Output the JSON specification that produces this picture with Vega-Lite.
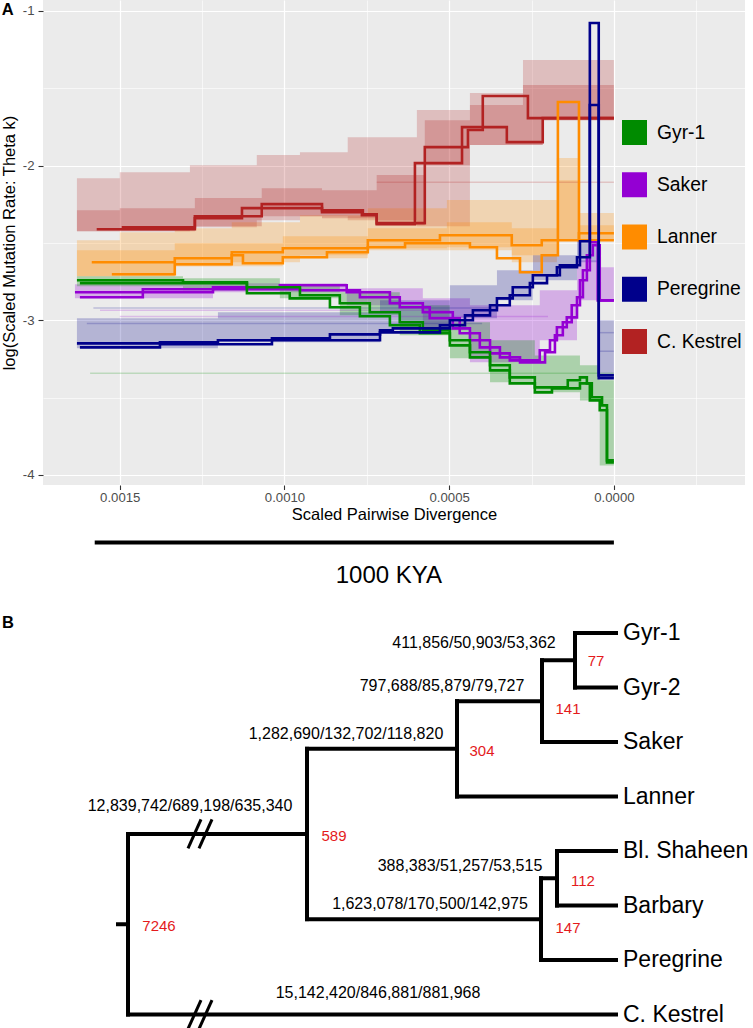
{
  "$schema": "https://vega.github.io/schema/vega-lite/v6.json",
  "background": "white",
  "padding": {"left": 1, "top": 0, "right": 0, "bottom": 0},
  "spacing": 5,
  "resolve": {"legend": {"color": "independent"}},
  "config": {"font": "Liberation Sans", "view": {"stroke": null}},
  "datasets": {
    "main": [
      {"sp":"C. Kestrel","run":"K1","x":0,"y":-1.693},{"sp":"C. Kestrel","run":"K1","x":0.000261,"y":-1.693},{"sp":"C. Kestrel","run":"K1","x":0.000398,"y":-1.55},{"sp":"C. Kestrel","run":"K1","x":0.000443,"y":-1.77},{"sp":"C. Kestrel","run":"K1","x":0.000574,"y":-1.88},{"sp":"C. Kestrel","run":"K1","x":0.00072,"y":-2.372},{"sp":"C. Kestrel","run":"K1","x":0.000762,"y":-2.314},{"sp":"C. Kestrel","run":"K1","x":0.000886,"y":-2.288},{"sp":"C. Kestrel","run":"K1","x":0.001069,"y":-2.249},{"sp":"C. Kestrel","run":"K1","x":0.001272,"y":-2.327},{"sp":"C. Kestrel","run":"K1","x":0.00157,"y":-2.411},
      {"sp":"C. Kestrel","run":"K2","x":0,"y":-1.693},{"sp":"C. Kestrel","run":"K2","x":0.000216,"y":-1.693},{"sp":"C. Kestrel","run":"K2","x":0.000325,"y":-1.848},{"sp":"C. Kestrel","run":"K2","x":0.000461,"y":-1.751},{"sp":"C. Kestrel","run":"K2","x":0.000604,"y":-1.984},{"sp":"C. Kestrel","run":"K2","x":0.00072,"y":-2.379},{"sp":"C. Kestrel","run":"K2","x":0.000765,"y":-2.32},{"sp":"C. Kestrel","run":"K2","x":0.000886,"y":-2.301},{"sp":"C. Kestrel","run":"K2","x":0.001129,"y":-2.275},{"sp":"C. Kestrel","run":"K2","x":0.001272,"y":-2.34},{"sp":"C. Kestrel","run":"K2","x":0.001494,"y":-2.398},
      {"sp":"Lanner","run":"L1","x":0,"y":-2.482},{"sp":"Lanner","run":"L1","x":0.000106,"y":-2.482},{"sp":"Lanner","run":"L1","x":0.00017,"y":-1.589},{"sp":"Lanner","run":"L1","x":0.000219,"y":-2.579},{"sp":"Lanner","run":"L1","x":0.000285,"y":-2.689},{"sp":"Lanner","run":"L1","x":0.000355,"y":-2.599},{"sp":"Lanner","run":"L1","x":0.000437,"y":-2.528},{"sp":"Lanner","run":"L1","x":0.000634,"y":-2.502},{"sp":"Lanner","run":"L1","x":0.000747,"y":-2.528},{"sp":"Lanner","run":"L1","x":0.000871,"y":-2.56},{"sp":"Lanner","run":"L1","x":0.001005,"y":-2.592},{"sp":"Lanner","run":"L1","x":0.001126,"y":-2.631},{"sp":"Lanner","run":"L1","x":0.00116,"y":-2.579},{"sp":"Lanner","run":"L1","x":0.001333,"y":-2.638},{"sp":"Lanner","run":"L1","x":0.001524,"y":-2.702},
      {"sp":"Lanner","run":"L2","x":0,"y":-2.437},{"sp":"Lanner","run":"L2","x":0.000106,"y":-2.437},{"sp":"Lanner","run":"L2","x":0.00017,"y":-2.482},{"sp":"Lanner","run":"L2","x":0.000219,"y":-2.482},{"sp":"Lanner","run":"L2","x":0.00031,"y":-2.515},{"sp":"Lanner","run":"L2","x":0.000528,"y":-2.45},{"sp":"Lanner","run":"L2","x":0.000747,"y":-2.482},{"sp":"Lanner","run":"L2","x":0.001005,"y":-2.534},{"sp":"Lanner","run":"L2","x":0.00116,"y":-2.56},{"sp":"Lanner","run":"L2","x":0.001333,"y":-2.599},{"sp":"Lanner","run":"L2","x":0.001585,"y":-2.625},
      {"sp":"Saker","run":"S1","x":0,"y":-2.871},{"sp":"Saker","run":"S1","x":0.000049,"y":-2.871},{"sp":"Saker","run":"S1","x":0.000073,"y":-2.495},{"sp":"Saker","run":"S1","x":0.000094,"y":-2.676},{"sp":"Saker","run":"S1","x":0.000112,"y":-2.851},{"sp":"Saker","run":"S1","x":0.000143,"y":-2.981},{"sp":"Saker","run":"S1","x":0.000173,"y":-3.045},{"sp":"Saker","run":"S1","x":0.000194,"y":-3.129},{"sp":"Saker","run":"S1","x":0.000225,"y":-3.194},{"sp":"Saker","run":"S1","x":0.000316,"y":-3.259},{"sp":"Saker","run":"S1","x":0.000376,"y":-3.214},{"sp":"Saker","run":"S1","x":0.000437,"y":-3.129},{"sp":"Saker","run":"S1","x":0.000489,"y":-3.052},{"sp":"Saker","run":"S1","x":0.00058,"y":-2.948},{"sp":"Saker","run":"S1","x":0.00068,"y":-2.89},{"sp":"Saker","run":"S1","x":0.000811,"y":-2.819},{"sp":"Saker","run":"S1","x":0.001014,"y":-2.773},{"sp":"Saker","run":"S1","x":0.001217,"y":-2.786},{"sp":"Saker","run":"S1","x":0.00143,"y":-2.799},{"sp":"Saker","run":"S1","x":0.001636,"y":-2.819},
      {"sp":"Saker","run":"S2","x":0,"y":-2.871},{"sp":"Saker","run":"S2","x":0.000043,"y":-2.871},{"sp":"Saker","run":"S2","x":0.000064,"y":-2.515},{"sp":"Saker","run":"S2","x":0.000082,"y":-2.579},{"sp":"Saker","run":"S2","x":0.000103,"y":-2.741},{"sp":"Saker","run":"S2","x":0.000128,"y":-2.903},{"sp":"Saker","run":"S2","x":0.000155,"y":-3.013},{"sp":"Saker","run":"S2","x":0.000179,"y":-3.097},{"sp":"Saker","run":"S2","x":0.000209,"y":-3.207},{"sp":"Saker","run":"S2","x":0.000285,"y":-3.272},{"sp":"Saker","run":"S2","x":0.000346,"y":-3.24},{"sp":"Saker","run":"S2","x":0.000407,"y":-3.175},{"sp":"Saker","run":"S2","x":0.000468,"y":-3.084},{"sp":"Saker","run":"S2","x":0.000559,"y":-2.987},{"sp":"Saker","run":"S2","x":0.00065,"y":-2.916},{"sp":"Saker","run":"S2","x":0.000771,"y":-2.851},{"sp":"Saker","run":"S2","x":0.000953,"y":-2.806},{"sp":"Saker","run":"S2","x":0.001217,"y":-2.799},{"sp":"Saker","run":"S2","x":0.00143,"y":-2.819},{"sp":"Saker","run":"S2","x":0.001621,"y":-2.851},
      {"sp":"Gyr-1","run":"G1","x":0,"y":-3.906},{"sp":"Gyr-1","run":"G1","x":0.000021,"y":-3.906},{"sp":"Gyr-1","run":"G1","x":0.000036,"y":-3.55},{"sp":"Gyr-1","run":"G1","x":0.000067,"y":-3.498},{"sp":"Gyr-1","run":"G1","x":0.000082,"y":-3.408},{"sp":"Gyr-1","run":"G1","x":0.000103,"y":-3.369},{"sp":"Gyr-1","run":"G1","x":0.00014,"y":-3.388},{"sp":"Gyr-1","run":"G1","x":0.00024,"y":-3.434},{"sp":"Gyr-1","run":"G1","x":0.000316,"y":-3.369},{"sp":"Gyr-1","run":"G1","x":0.000376,"y":-3.291},{"sp":"Gyr-1","run":"G1","x":0.000437,"y":-3.207},{"sp":"Gyr-1","run":"G1","x":0.000498,"y":-3.129},{"sp":"Gyr-1","run":"G1","x":0.00058,"y":-3.065},{"sp":"Gyr-1","run":"G1","x":0.00065,"y":-3.013},{"sp":"Gyr-1","run":"G1","x":0.000741,"y":-2.948},{"sp":"Gyr-1","run":"G1","x":0.000832,"y":-2.89},{"sp":"Gyr-1","run":"G1","x":0.000953,"y":-2.838},{"sp":"Gyr-1","run":"G1","x":0.001114,"y":-2.786},{"sp":"Gyr-1","run":"G1","x":0.001308,"y":-2.754},{"sp":"Gyr-1","run":"G1","x":0.00163,"y":-2.741},
      {"sp":"Gyr-1","run":"G2","x":0,"y":-3.919},{"sp":"Gyr-1","run":"G2","x":0.000021,"y":-3.919},{"sp":"Gyr-1","run":"G2","x":0.000043,"y":-3.582},{"sp":"Gyr-1","run":"G2","x":0.000073,"y":-3.518},{"sp":"Gyr-1","run":"G2","x":0.000103,"y":-3.408},{"sp":"Gyr-1","run":"G2","x":0.000188,"y":-3.44},{"sp":"Gyr-1","run":"G2","x":0.00024,"y":-3.466},{"sp":"Gyr-1","run":"G2","x":0.000316,"y":-3.408},{"sp":"Gyr-1","run":"G2","x":0.000376,"y":-3.324},{"sp":"Gyr-1","run":"G2","x":0.000437,"y":-3.24},{"sp":"Gyr-1","run":"G2","x":0.000498,"y":-3.162},{"sp":"Gyr-1","run":"G2","x":0.000589,"y":-3.084},{"sp":"Gyr-1","run":"G2","x":0.00068,"y":-3.032},{"sp":"Gyr-1","run":"G2","x":0.000771,"y":-2.974},{"sp":"Gyr-1","run":"G2","x":0.000862,"y":-2.916},{"sp":"Gyr-1","run":"G2","x":0.000984,"y":-2.858},{"sp":"Gyr-1","run":"G2","x":0.001114,"y":-2.825},{"sp":"Gyr-1","run":"G2","x":0.001621,"y":-2.76},
      {"sp":"Peregrine","run":"P1","x":0,"y":-3.375},{"sp":"Peregrine","run":"P1","x":0.000046,"y":-3.375},{"sp":"Peregrine","run":"P1","x":0.000073,"y":-1.078},{"sp":"Peregrine","run":"P1","x":0.000112,"y":-2.592},{"sp":"Peregrine","run":"P1","x":0.000173,"y":-2.657},{"sp":"Peregrine","run":"P1","x":0.000246,"y":-2.709},{"sp":"Peregrine","run":"P1","x":0.000307,"y":-2.786},{"sp":"Peregrine","run":"P1","x":0.000355,"y":-2.858},{"sp":"Peregrine","run":"P1","x":0.000428,"y":-2.935},{"sp":"Peregrine","run":"P1","x":0.000498,"y":-3.0},{"sp":"Peregrine","run":"P1","x":0.000671,"y":-3.052},{"sp":"Peregrine","run":"P1","x":0.00071,"y":-3.065},{"sp":"Peregrine","run":"P1","x":0.000862,"y":-3.091},{"sp":"Peregrine","run":"P1","x":0.001038,"y":-3.117},{"sp":"Peregrine","run":"P1","x":0.001202,"y":-3.129},{"sp":"Peregrine","run":"P1","x":0.001378,"y":-3.142},{"sp":"Peregrine","run":"P1","x":0.00163,"y":-3.149},
      {"sp":"Peregrine","run":"P2","x":0,"y":-3.356},{"sp":"Peregrine","run":"P2","x":0.000046,"y":-3.356},{"sp":"Peregrine","run":"P2","x":0.000073,"y":-1.608},{"sp":"Peregrine","run":"P2","x":0.000103,"y":-2.489},{"sp":"Peregrine","run":"P2","x":0.000164,"y":-2.644},{"sp":"Peregrine","run":"P2","x":0.000203,"y":-2.709},{"sp":"Peregrine","run":"P2","x":0.000255,"y":-2.76},{"sp":"Peregrine","run":"P2","x":0.000316,"y":-2.838},{"sp":"Peregrine","run":"P2","x":0.000376,"y":-2.903},{"sp":"Peregrine","run":"P2","x":0.000452,"y":-2.968},{"sp":"Peregrine","run":"P2","x":0.000528,"y":-3.032},{"sp":"Peregrine","run":"P2","x":0.00071,"y":-3.078},{"sp":"Peregrine","run":"P2","x":0.001038,"y":-3.129},{"sp":"Peregrine","run":"P2","x":0.001378,"y":-3.155},{"sp":"Peregrine","run":"P2","x":0.001621,"y":-3.175}
    ],
    "band": [
      {"sp":"C. Kestrel","x":0,"lo":-1.706,"y":-1.317},{"sp":"C. Kestrel","x":0.000216,"lo":-1.706,"y":-1.317},{"sp":"C. Kestrel","x":0.000276,"lo":-1.867,"y":-1.317},{"sp":"C. Kestrel","x":0.000437,"lo":-1.867,"y":-1.531},{"sp":"C. Kestrel","x":0.000598,"lo":-2.392,"y":-1.641},{"sp":"C. Kestrel","x":0.000808,"lo":-2.353,"y":-1.816},{"sp":"C. Kestrel","x":0.000953,"lo":-2.327,"y":-1.913},{"sp":"C. Kestrel","x":0.001084,"lo":-2.353,"y":-1.932},{"sp":"C. Kestrel","x":0.001287,"lo":-2.398,"y":-1.997},{"sp":"C. Kestrel","x":0.0015,"lo":-2.424,"y":-2.042},{"sp":"C. Kestrel","x":0.00163,"lo":-2.424,"y":-2.081},
      {"sp":"Lanner","x":0,"lo":-2.482,"y":-2.307},{"sp":"Lanner","x":0.000106,"lo":-2.482,"y":-2.307},{"sp":"Lanner","x":0.000173,"lo":-2.482,"y":-1.951},{"sp":"Lanner","x":0.00031,"lo":-2.625,"y":-2.223},{"sp":"Lanner","x":0.000507,"lo":-2.547,"y":-2.223},{"sp":"Lanner","x":0.000747,"lo":-2.534,"y":-2.275},{"sp":"Lanner","x":0.000953,"lo":-2.579,"y":-2.32},{"sp":"Lanner","x":0.00116,"lo":-2.625,"y":-2.366},{"sp":"Lanner","x":0.001333,"lo":-2.65,"y":-2.405},{"sp":"Lanner","x":0.0015,"lo":-2.715,"y":-2.43},{"sp":"Lanner","x":0.00163,"lo":-2.715,"y":-2.482},
      {"sp":"Saker","x":0,"lo":-2.871,"y":-2.657},{"sp":"Saker","x":0.000049,"lo":-2.871,"y":-2.657},{"sp":"Saker","x":0.000112,"lo":-2.871,"y":-2.612},{"sp":"Saker","x":0.000225,"lo":-3.129,"y":-2.806},{"sp":"Saker","x":0.000437,"lo":-3.272,"y":-2.903},{"sp":"Saker","x":0.00058,"lo":-3.065,"y":-2.858},{"sp":"Saker","x":0.000811,"lo":-2.903,"y":-2.793},{"sp":"Saker","x":0.001217,"lo":-2.819,"y":-2.761},{"sp":"Saker","x":0.001636,"lo":-2.858,"y":-2.767},
      {"sp":"Gyr-1","x":0,"lo":-3.939,"y":-3.388},{"sp":"Gyr-1","x":0.000043,"lo":-3.939,"y":-3.388},{"sp":"Gyr-1","x":0.000103,"lo":-3.518,"y":-3.291},{"sp":"Gyr-1","x":0.00024,"lo":-3.466,"y":-3.227},{"sp":"Gyr-1","x":0.000376,"lo":-3.401,"y":-3.129},{"sp":"Gyr-1","x":0.000498,"lo":-3.246,"y":-3.013},{"sp":"Gyr-1","x":0.00065,"lo":-3.097,"y":-2.903},{"sp":"Gyr-1","x":0.000832,"lo":-2.968,"y":-2.819},{"sp":"Gyr-1","x":0.001014,"lo":-2.858,"y":-2.767},{"sp":"Gyr-1","x":0.001308,"lo":-2.806,"y":-2.728},{"sp":"Gyr-1","x":0.00163,"lo":-2.78,"y":-2.715},
      {"sp":"Peregrine","x":0,"lo":-3.375,"y":-3.0},{"sp":"Peregrine","x":0.000046,"lo":-3.375,"y":-3.0},{"sp":"Peregrine","x":0.000073,"lo":-2.625,"y":-2.482},{"sp":"Peregrine","x":0.000112,"lo":-2.625,"y":-2.482},{"sp":"Peregrine","x":0.000246,"lo":-2.741,"y":-2.579},{"sp":"Peregrine","x":0.000355,"lo":-2.871,"y":-2.676},{"sp":"Peregrine","x":0.000498,"lo":-2.987,"y":-2.773},{"sp":"Peregrine","x":0.00071,"lo":-3.065,"y":-2.871},{"sp":"Peregrine","x":0.001202,"lo":-3.142,"y":-2.948},{"sp":"Peregrine","x":0.00163,"lo":-3.181,"y":-2.987}
    ],
    "core": [
      {"sp":"C. Kestrel","x":0,"lo":-1.706,"y":-1.479},{"sp":"C. Kestrel","x":0.000216,"lo":-1.706,"y":-1.479},{"sp":"C. Kestrel","x":0.000276,"lo":-1.867,"y":-1.479},{"sp":"C. Kestrel","x":0.000437,"lo":-1.867,"y":-1.608},{"sp":"C. Kestrel","x":0.000574,"lo":-1.997,"y":-1.706},{"sp":"C. Kestrel","x":0.00072,"lo":-2.385,"y":-2.061},{"sp":"C. Kestrel","x":0.000886,"lo":-2.34,"y":-2.159},{"sp":"C. Kestrel","x":0.001069,"lo":-2.327,"y":-2.146},{"sp":"C. Kestrel","x":0.001272,"lo":-2.392,"y":-2.21},{"sp":"C. Kestrel","x":0.0015,"lo":-2.424,"y":-2.275},{"sp":"C. Kestrel","x":0.00163,"lo":-2.424,"y":-2.288},
      {"sp":"Lanner","x":0,"lo":-2.482,"y":-2.385},{"sp":"Lanner","x":0.000106,"lo":-2.482,"y":-2.385},{"sp":"Lanner","x":0.000173,"lo":-2.482,"y":-2.094},{"sp":"Lanner","x":0.00031,"lo":-2.579,"y":-2.405},{"sp":"Lanner","x":0.000507,"lo":-2.528,"y":-2.366},{"sp":"Lanner","x":0.000747,"lo":-2.547,"y":-2.405},{"sp":"Lanner","x":0.001005,"lo":-2.599,"y":-2.456},{"sp":"Lanner","x":0.001333,"lo":-2.65,"y":-2.502},{"sp":"Lanner","x":0.00163,"lo":-2.715,"y":-2.547}
    ],
    "faint": [
      {"sp":"Gyr-1","run":"F1","x":0,"y":-3.343},{"sp":"Gyr-1","run":"F1","x":0.00159,"y":-3.343},
      {"sp":"C. Kestrel","run":"F2","x":0,"y":-2.107},{"sp":"C. Kestrel","run":"F2","x":0.00072,"y":-2.107},
      {"sp":"Saker","run":"F3","x":0.000498,"y":-2.935},{"sp":"Saker","run":"F3","x":0.00156,"y":-2.935},
      {"sp":"Peregrine","run":"F4","x":0.00035,"y":-2.92},{"sp":"Peregrine","run":"F4","x":0.00158,"y":-2.92},
      {"sp":"Peregrine","run":"F5","x":0.0004,"y":-3.02},{"sp":"Peregrine","run":"F5","x":0.0016,"y":-3.02},
      {"sp":"Saker","run":"F6","x":0.0002,"y":-2.975},{"sp":"Saker","run":"F6","x":0.0015,"y":-2.975},
      {"sp":"Peregrine","run":"F7","x":0,"y":-3.2},{"sp":"Peregrine","run":"F7","x":0.000046,"y":-3.2},
      {"sp":"Peregrine","run":"F8","x":0,"y":-3.08},{"sp":"Peregrine","run":"F8","x":0.000046,"y":-3.08}
    ],
    "scalebar": [{"x": 0.001576, "x_end": 0, "y": -4.437}],
    "panelText": [
      {"label": "1000 KYA", "x": 0.000683, "y": -4.651, "kind": "scale"},
      {"label": "A", "x": 0.001858, "y": -0.994, "kind": "panel"}
    ],
    "branches": [
      {"d":-10,"d2":0,"p":5.344,"p2":5.344},
      {"d":0,"d2":0,"p":3.6875,"p2":7},
      {"d":0,"d2":179,"p":3.6875,"p2":3.6875},
      {"d":0,"d2":488,"p":7,"p2":7},
      {"d":179,"d2":179,"p":2.125,"p2":5.25},
      {"d":179,"d2":329,"p":2.125,"p2":2.125},
      {"d":179,"d2":413,"p":5.25,"p2":5.25},
      {"d":329,"d2":329,"p":1.25,"p2":3},
      {"d":329,"d2":488,"p":3,"p2":3},
      {"d":329,"d2":414,"p":1.25,"p2":1.25},
      {"d":414,"d2":414,"p":0.5,"p2":2},
      {"d":414,"d2":488,"p":2,"p2":2},
      {"d":414,"d2":447,"p":0.5,"p2":0.5},
      {"d":447,"d2":447,"p":0,"p2":1},
      {"d":447,"d2":488,"p":0,"p2":0},
      {"d":447,"d2":488,"p":1,"p2":1},
      {"d":413,"d2":413,"p":4.5,"p2":6},
      {"d":413,"d2":488,"p":6,"p2":6},
      {"d":413,"d2":429,"p":4.5,"p2":4.5},
      {"d":429,"d2":429,"p":4,"p2":5},
      {"d":429,"d2":488,"p":4,"p2":4},
      {"d":429,"d2":488,"p":5,"p2":5}
    ],
    "breaks": [
      {"d":60,"d2":73,"p":3.95,"p2":3.42},
      {"d":71,"d2":84,"p":3.95,"p2":3.42},
      {"d":60,"d2":73,"p":7.265,"p2":6.735},
      {"d":71,"d2":84,"p":7.265,"p2":6.735}
    ],
    "tips": [
      {"label":"Gyr-1","d":495,"p":0},
      {"label":"Gyr-2","d":495,"p":1},
      {"label":"Saker","d":495,"p":2},
      {"label":"Lanner","d":495,"p":3},
      {"label":"Bl. Shaheen","d":495,"p":4},
      {"label":"Barbary","d":495,"p":5},
      {"label":"Peregrine","d":495,"p":6},
      {"label":"C. Kestrel","d":495,"p":7}
    ],
    "branchLabels": [
      {"label":"411,856/50,903/53,362","d":346,"p":0.183},
      {"label":"797,688/85,879/79,727","d":314,"p":0.972},
      {"label":"1,282,690/132,702/118,820","d":218,"p":1.853},
      {"label":"12,839,742/689,198/635,340","d":62,"p":3.174},
      {"label":"388,383/51,257/53,515","d":332,"p":4.275},
      {"label":"1,623,078/170,500/142,975","d":302,"p":4.972},
      {"label":"15,142,420/846,881/881,968","d":250,"p":6.606}
    ],
    "support": [
      {"label":"77","d":468,"p":0.514},
      {"label":"141","d":440,"p":1.394},
      {"label":"304","d":354,"p":2.165},
      {"label":"589","d":206,"p":3.725},
      {"label":"112","d":455,"p":4.55},
      {"label":"147","d":440,"p":5.413},
      {"label":"7246","d":31,"p":5.376}
    ]
  },
  "vconcat": [
    {
      "width": 702,
      "height": 485,
      "view": {"fill": "#EBEBEB", "stroke": null},
      "encoding": {
        "x": {
          "field": "x", "type": "quantitative",
          "scale": {"domain": [-0.000398, 0.001733], "reverse": true, "nice": false, "zero": false},
          "axis": {
            "title": "Scaled Pairwise Divergence",
            "titleFontSize": 16.5, "titleFontWeight": "normal", "titleColor": "black", "titlePadding": 3,
            "values": [0.0015, 0.00125, 0.001, 0.00075, 0.0005, 0.00025, 0, -0.00025],
            "labelExpr": "abs(datum.value*2000 - round(datum.value*2000)) > 0.1 ? '' : format(datum.value, '.4f')",
            "labelFontSize": 13.2, "labelColor": "#4D4D4D", "labelPadding": 2, "labelOverlap": false, "labelFlush": false,
            "tickColor": "#333333", "tickWidth": 1.1, "tickSize": 4.5,
            "tickOpacity": {"condition": {"test": "abs(datum.value*2000 - round(datum.value*2000)) > 0.1", "value": 0}, "value": 1},
            "domain": false, "grid": true, "gridColor": "white",
            "gridWidth": {"condition": {"test": "abs(datum.value*2000 - round(datum.value*2000)) > 0.1", "value": 0.6}, "value": 1.2}
          }
        },
        "y": {
          "field": "y", "type": "quantitative",
          "scale": {"domain": [-4.065, -0.929], "nice": false, "zero": false},
          "axis": {
            "title": "log(Scaled Mutation Rate: Theta k)",
            "titleFontSize": 16.5, "titleFontWeight": "normal", "titleColor": "black", "titlePadding": 5,
            "values": [-4, -3.5, -3, -2.5, -2, -1.5, -1],
            "labelExpr": "datum.value % 1 != 0 ? '' : '-' + format(abs(datum.value), 'd')",
            "labelFontSize": 13.2, "labelColor": "#4D4D4D", "labelPadding": 4, "labelOverlap": false, "labelFlush": false,
            "tickColor": "#333333", "tickWidth": 1.1, "tickSize": 5,
            "tickOpacity": {"condition": {"test": "datum.value % 1 != 0", "value": 0}, "value": 1},
            "domain": false, "grid": true, "gridColor": "white",
            "gridWidth": {"condition": {"test": "datum.value % 1 != 0", "value": 0.6}, "value": 1.2}
          }
        }
      },
      "layer": [
        {
          "data": {"name": "band"},
          "mark": {"type": "area", "interpolate": "step-after"},
          "encoding": {
            "y2": {"field": "lo"},
            "fill": {"field": "sp", "type": "nominal",
              "scale": {"domain": ["Gyr-1","Saker","Lanner","Peregrine","C. Kestrel"], "range": ["#008B00","#9400D3","#FF8C00","#00008B","#B22222"]},
              "legend": null},
            "opacity": {"field": "sp", "type": "nominal",
              "scale": {"domain": ["Gyr-1","Saker","Lanner","Peregrine","C. Kestrel"], "range": [0.27, 0.22, 0.2, 0.12, 0.22]},
              "legend": null}
          }
        },
        {
          "data": {"name": "core"},
          "mark": {"type": "area", "interpolate": "step-after", "opacity": 0.25},
          "encoding": {
            "y2": {"field": "lo"},
            "fill": {"field": "sp", "type": "nominal",
              "scale": {"domain": ["Gyr-1","Saker","Lanner","Peregrine","C. Kestrel"], "range": ["#008B00","#9400D3","#FF8C00","#00008B","#B22222"]},
              "legend": null}
          }
        },
        {
          "data": {"name": "faint"},
          "mark": {"type": "line", "interpolate": "step-after", "strokeWidth": 1.5, "opacity": 0.2},
          "encoding": {
            "detail": {"field": "run"},
            "stroke": {"field": "sp", "type": "nominal",
              "scale": {"domain": ["Gyr-1","Saker","Lanner","Peregrine","C. Kestrel"], "range": ["#008B00","#9400D3","#FF8C00","#00008B","#B22222"]},
              "legend": null}
          }
        },
        {
          "data": {"name": "main"},
          "mark": {"type": "line", "interpolate": "step-after", "strokeWidth": 2.6},
          "encoding": {
            "detail": {"field": "run"},
            "color": {"field": "sp", "type": "nominal",
              "scale": {"domain": ["Gyr-1","Saker","Lanner","Peregrine","C. Kestrel"], "range": ["#008B00","#9400D3","#FF8C00","#00008B","#B22222"]},
              "legend": {
                "title": null, "orient": "none", "legendX": 579, "legendY": 120, "direction": "vertical", "zindex": 5,
                "symbolType": "square", "symbolSize": 156.25, "symbolStrokeWidth": 12.5, "symbolOpacity": 1,
                "labelFontSize": 19.3, "labelColor": "black", "labelFont": "Liberation Sans", "labelOffset": 10,
                "rowPadding": -10.75, "padding": 0, "labelLimit": 300
              }
            }
          }
        },
        {
          "data": {"name": "scalebar"},
          "mark": {"type": "rule", "strokeWidth": 4, "color": "black"},
          "encoding": {"x2": {"field": "x_end"}}
        },
        {
          "data": {"name": "panelText"},
          "transform": [{"filter": "datum.kind == 'scale'"}],
          "mark": {"type": "text", "fontSize": 24, "align": "center", "baseline": "middle", "color": "black"},
          "encoding": {"text": {"field": "label"}}
        },
        {
          "data": {"name": "panelText"},
          "transform": [{"filter": "datum.kind == 'panel'"}],
          "mark": {"type": "text", "fontSize": 16.5, "fontWeight": "bold", "align": "left", "baseline": "middle", "color": "black"},
          "encoding": {"text": {"field": "label"}}
        }
      ]
    },
    {
      "width": 702,
      "height": 436,
      "view": {"stroke": null},
      "encoding": {
        "x": {"field": "d", "type": "quantitative", "scale": {"domain": [-85, 617], "nice": false, "zero": false}, "axis": null},
        "y": {"field": "p", "type": "quantitative", "scale": {"domain": [-0.734, 7.266], "reverse": true, "nice": false, "zero": false}, "axis": null}
      },
      "layer": [
        {
          "data": {"name": "branches"},
          "mark": {"type": "rule", "strokeWidth": 4, "strokeCap": "square", "color": "black"},
          "encoding": {"x2": {"field": "d2"}, "y2": {"field": "p2"}}
        },
        {
          "data": {"name": "breaks"},
          "mark": {"type": "rule", "strokeWidth": 3, "color": "black"},
          "encoding": {"x2": {"field": "d2"}, "y2": {"field": "p2"}}
        },
        {
          "data": {"name": "tips"},
          "mark": {"type": "text", "fontSize": 23, "align": "left", "baseline": "middle", "color": "black"},
          "encoding": {"text": {"field": "label"}}
        },
        {
          "data": {"name": "branchLabels"},
          "mark": {"type": "text", "fontSize": 16, "align": "center", "baseline": "middle", "color": "black"},
          "encoding": {"text": {"field": "label"}}
        },
        {
          "data": {"name": "support"},
          "mark": {"type": "text", "fontSize": 15, "align": "center", "baseline": "middle", "color": "#E41A1C"},
          "encoding": {"text": {"field": "label"}}
        },
        {
          "data": {"values": [{"label": "B", "d": -126, "p": -0.183}]},
          "mark": {"type": "text", "fontSize": 16.5, "fontWeight": "bold", "align": "left", "baseline": "middle", "color": "black"},
          "encoding": {"text": {"field": "label"}}
        }
      ]
    }
  ]
}
